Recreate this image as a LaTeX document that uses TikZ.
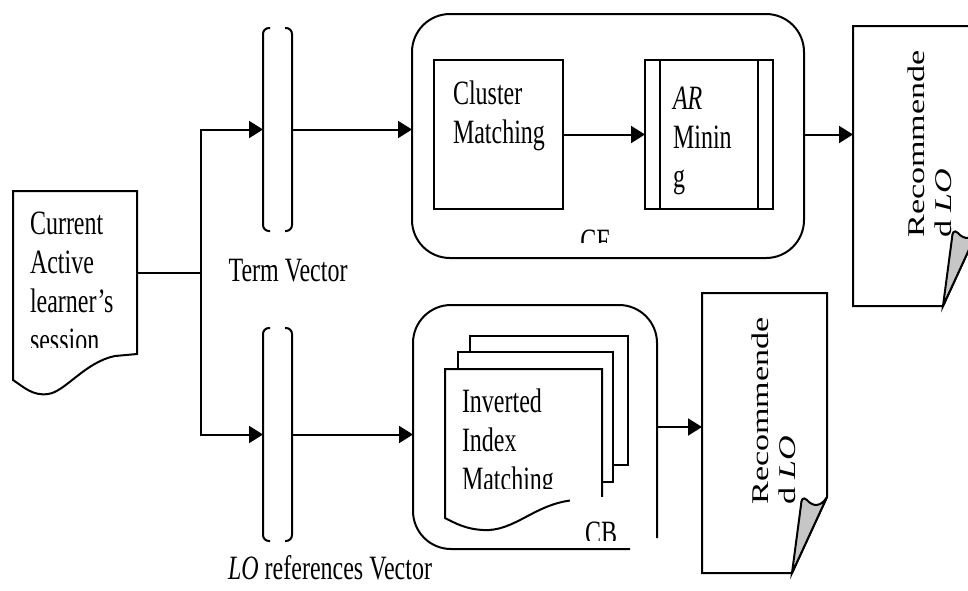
\documentclass[tikz,border=0pt]{standalone}
\usepackage{fontspec}
\setmainfont{Liberation Serif}
\usetikzlibrary{positioning,arrows.meta,calc}

\newcommand\stretched[1]{\scalebox{1}[1.42]{\begin{tabular}{@{}l@{}}#1\end{tabular}}}
\newcommand\upright[1]{\rotatebox{90}{\scalebox{1.42}[1]{\begin{tabular}{@{}l@{}}#1\end{tabular}}}}
% page with a curled corner, drawn round a blank node
\newcommand\recpage[1]{%
	\draw[fill=white] (#1.north west) -- (#1.north east) -- ($(#1.north east)+(0,204)$)
		-- ($(#1.south east)+(-35,0)$) -- (#1.south west) -- cycle;
	\draw[fill=gray!45] ($(#1.north east)+(0,204)$) .. controls +(-6,10) and +(6,7) .. ($(#1.north east)+(-20,207)$)
		.. controls +(-4,-4) and +(0,-5) .. ($(#1.north east)+(-26,212)$) -- ($(#1.south east)+(-35,0)$) -- cycle;
}

\begin{document}
\begin{tikzpicture}[x=1pt, y=-1pt,
		line width=2pt,
		>={Triangle[length=14pt,width=17pt]},
		every node/.style = {
			draw, rectangle,
			outer sep=0pt, inner sep=0pt
		},
		blank/.style = {draw=none},
		sheet/.style = {fill=white},
		txt/.style = {draw=none, font=\fontsize{24}{27.5}\selectfont}
		]
		\useasboundingbox (0,0) rectangle (968,590);
		%\draw[thin] (0,0) grid[step=50] (968,590);
		
		% learner's session
		\node[blank, minimum width=124, minimum height=163] (sess) at (75,272.5) {};
		\draw[fill=white] (sess.south east) -- (sess.north east) -- (sess.north west) -- (13,380)
			.. controls (25,388) and (33,396) .. (48,394)
			.. controls (65,392) and (85,362) .. (115,356) -- cycle;
		\begin{scope}
			\clip (13,191) rectangle (137,347);
			\node[txt, anchor=north west] (sesstxt) at (30,207) {\stretched{Current\\Active\\learner’s\\session}};
		\end{scope}
		\coordinate (split) at (201,272.5);
		
		% vectors
		\node[blank, minimum width=29, minimum height=203] (tv) at (277.5,129.5) {};
		\node[blank, minimum width=29, minimum height=213] (lv) at (277.5,434.5) {};
		\foreach \b in {tv,lv} {
			\draw[rounded corners=6] ([xshift=7]\b.north west) -- (\b.north west) -- (\b.south west) -- ([xshift=7]\b.south west);
			\draw[rounded corners=6] ([xshift=-7]\b.north east) -- (\b.north east) -- (\b.south east) -- ([xshift=-7]\b.south east);
		}
		\node[txt] (tvlab) at (288,274) {\stretched{Term Vector}};
		\node[txt] (lvlab) at (330,572) {\stretched{\textit{LO} references Vector}};
		
		% CF
		\node[minimum width=392, minimum height=244, rounded corners=38] (cf) at (608,136) {};
		\node[minimum width=129, minimum height=149] (cm) at (498.5,134.5) {};
		\node[minimum width=128, minimum height=149, right=82pt of cm] (ar) {};
		\draw ([xshift=15]ar.north west) -- ([xshift=15]ar.south west);
		\draw ([xshift=-15]ar.north east) -- ([xshift=-15]ar.south east);
		\node[txt, anchor=north west] (cmtxt) at ([xshift=19,yshift=-17]cm.north west) {\stretched{Cluster\\Matching}};
		\node[txt, anchor=north west] (artxt) at ([xshift=28,yshift=-22]ar.north west) {\stretched{\textit{AR}\\Minin\\g}};
		\begin{scope}
			\clip (560,215) rectangle (640,242);
			\node[txt] (cflab) at (595,245) {\stretched{CF}};
		\end{scope}
		
		% CB
		\node[blank, minimum width=244, minimum height=244] (cb) at (535,427) {};
		\draw[rounded corners=38] (630,549) -- (cb.south west) -- (cb.north west) -- (cb.north east) -- (657,538);
		\node[sheet, minimum width=158, minimum height=129, anchor=north west] (pg3) at (470,336) {};
		\node[sheet, minimum width=155, minimum height=130, anchor=north west] (pg2) at (458,352) {};
		\node[blank, minimum width=157, minimum height=149, anchor=north west] (inv) at (445,369) {};
		\draw[fill=white] (inv.south west) -- (inv.north west) -- (inv.north east) -- (602,500) -- (575,500)
			.. controls (535,503) and (515,532) .. (483,530)
			.. controls (465,529) and (455,523) .. cycle;
		\begin{scope}
			\clip (445,369) rectangle (602,488);
			\node[txt, anchor=north west] (invtxt) at (462,385) {\stretched{Inverted\\Index\\Matching}};
		\end{scope}
		\node[blank, fill=white, minimum width=78, minimum height=43, anchor=north west] (cblab) at (570,497) {};
		\begin{scope}
			\clip (cblab.north west) rectangle (cblab.south east);
			\node[txt] (cbtxt) at (601,537) {\stretched{CB}};
		\end{scope}
		
		% recommended LO
		\node[blank, minimum width=125, minimum height=280] (rec1) at (915.5,166) {};
		\node[blank, minimum width=125, minimum height=280] (rec2) at (764.5,433) {};
		\recpage{rec1}
		\recpage{rec2}
		\node[txt] (rec1txt) at ([xshift=17,yshift=22]rec1.center) {\upright{Recommende\\d \textit{LO}}};
		\node[txt] (rec2txt) at ([xshift=12,yshift=22]rec2.center) {\upright{Recommende\\d \textit{LO}}};
		
		\draw (sess.east) -- (split);
		\draw[->] (split) |- (tv.west);
		\draw[->] (split) |- (lv.west);
		\draw[->] (tv.east) -- (tv.east -| cf.west);
		\draw[->] (cm) -- (ar);
		\draw[->] (ar.east -| cf.east) -- (ar.east -| rec1.west);
		\draw[->] (lv.east) -- (lv.east -| cb.west);
		\draw[->] (cb.east) -- (cb.east -| rec2.west);
	\end{tikzpicture}
\end{document}
